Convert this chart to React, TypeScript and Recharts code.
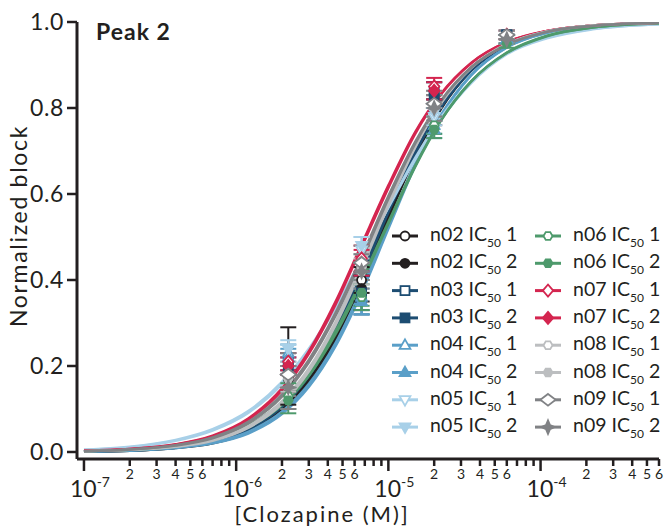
import React from "react";
import {
  ComposedChart,
  Line,
  Scatter,
  ErrorBar,
  XAxis,
  YAxis,
  Legend,
  Label,
} from "recharts";

const FONT = "Lato, 'Noto Sans', sans-serif";
const INK = "#231f20";

const fitConc = [
  1e-7, 2e-7, 4e-7, 7e-7, 1.2e-6, 2e-6, 3e-6, 4.5e-6, 6.5e-6, 1e-5, 1.5e-5,
  2.2e-5, 3.5e-5, 6e-5, 1.1e-4, 2.2e-4, 6e-4,
];
// tested concentrations (M)
const doseConc = [2.2e-6, 6.67e-6, 2e-5, 6e-5];

const yTicks = [0, 0.2, 0.4, 0.6, 0.8, 1.0];
const xTicks = [
  1e-7, 2e-7, 3e-7, 4e-7, 5e-7, 6e-7, 7e-7, 8e-7, 9e-7,
  1e-6, 2e-6, 3e-6, 4e-6, 5e-6, 6e-6, 7e-6, 8e-6, 9e-6,
  1e-5, 2e-5, 3e-5, 4e-5, 5e-5, 6e-5, 7e-5, 8e-5, 9e-5,
  1e-4, 2e-4, 3e-4, 4e-4, 5e-4, 6e-4,
];

// fitted curves, normalized block
const fitN02a = [0.001, 0.003, 0.010, 0.022, 0.049, 0.099, 0.168, 0.271, 0.392, 0.552, 0.693, 0.801, 0.890, 0.948, 0.978, 0.992, 0.998];
const fitN02b = [0.001, 0.003, 0.009, 0.020, 0.045, 0.093, 0.160, 0.262, 0.382, 0.543, 0.686, 0.796, 0.887, 0.946, 0.977, 0.991, 0.998];
const fitN03a = [0.002, 0.004, 0.012, 0.026, 0.056, 0.111, 0.183, 0.288, 0.408, 0.563, 0.698, 0.801, 0.888, 0.945, 0.977, 0.991, 0.998];
const fitN03b = [0.002, 0.004, 0.011, 0.024, 0.052, 0.105, 0.176, 0.280, 0.400, 0.557, 0.694, 0.799, 0.887, 0.945, 0.977, 0.991, 0.998];
const fitN04a = [0.001, 0.003, 0.009, 0.020, 0.043, 0.088, 0.151, 0.246, 0.361, 0.519, 0.665, 0.779, 0.876, 0.941, 0.975, 0.991, 0.998];
const fitN04b = [0.002, 0.004, 0.010, 0.022, 0.047, 0.094, 0.158, 0.254, 0.370, 0.527, 0.671, 0.782, 0.877, 0.941, 0.975, 0.990, 0.998];
const fitN05a = [0.005, 0.012, 0.028, 0.053, 0.095, 0.163, 0.240, 0.338, 0.442, 0.568, 0.680, 0.772, 0.858, 0.925, 0.962, 0.983, 0.995];
const fitN05b = [0.005, 0.011, 0.026, 0.050, 0.091, 0.158, 0.236, 0.335, 0.441, 0.570, 0.684, 0.777, 0.862, 0.928, 0.964, 0.984, 0.995];
const fitN06a = [0.002, 0.006, 0.015, 0.031, 0.062, 0.116, 0.185, 0.282, 0.392, 0.535, 0.666, 0.770, 0.862, 0.928, 0.967, 0.987, 0.997];
const fitN06b = [0.002, 0.005, 0.013, 0.028, 0.057, 0.109, 0.177, 0.274, 0.385, 0.530, 0.663, 0.769, 0.862, 0.929, 0.968, 0.987, 0.997];
const fitN07a = [0.003, 0.007, 0.018, 0.038, 0.078, 0.148, 0.234, 0.350, 0.474, 0.620, 0.744, 0.832, 0.905, 0.953, 0.979, 0.992, 0.998];
const fitN07b = [0.003, 0.007, 0.017, 0.036, 0.075, 0.143, 0.228, 0.343, 0.467, 0.614, 0.740, 0.830, 0.904, 0.953, 0.979, 0.992, 0.998];
const fitN08a = [0.002, 0.005, 0.013, 0.028, 0.060, 0.118, 0.194, 0.303, 0.425, 0.580, 0.713, 0.812, 0.895, 0.949, 0.978, 0.992, 0.998];
const fitN08b = [0.002, 0.005, 0.012, 0.026, 0.056, 0.112, 0.187, 0.295, 0.417, 0.573, 0.708, 0.809, 0.893, 0.948, 0.978, 0.992, 0.998];
const fitN09a = [0.002, 0.006, 0.016, 0.034, 0.070, 0.134, 0.214, 0.324, 0.445, 0.595, 0.721, 0.816, 0.895, 0.947, 0.977, 0.991, 0.998];
const fitN09b = [0.002, 0.006, 0.015, 0.032, 0.067, 0.129, 0.208, 0.317, 0.438, 0.589, 0.717, 0.814, 0.894, 0.947, 0.977, 0.991, 0.998];

// measured means and error at doseConc
const meanN02a = [0.20, 0.40, 0.80, 0.96];
const errN02a = [0.09, 0.03, 0.03, 0.01];
const meanN02b = [0.17, 0.38, 0.79, 0.96];
const errN02b = [0.03, 0.03, 0.03, 0.01];
const meanN03a = [0.21, 0.37, 0.84, 0.97];
const errN03a = [0.02, 0.04, 0.02, 0.01];
const meanN03b = [0.20, 0.36, 0.83, 0.97];
const errN03b = [0.02, 0.04, 0.03, 0.01];
const meanN04a = [0.23, 0.36, 0.76, 0.96];
const errN04a = [0.02, 0.04, 0.02, 0.01];
const meanN04b = [0.22, 0.35, 0.75, 0.96];
const errN04b = [0.02, 0.03, 0.02, 0.01];
const meanN05a = [0.24, 0.47, 0.78, 0.96];
const errN05a = [0.02, 0.03, 0.02, 0.01];
const meanN05b = [0.24, 0.48, 0.79, 0.96];
const errN05b = [0.01, 0.02, 0.02, 0.01];
const meanN06a = [0.13, 0.36, 0.76, 0.96];
const errN06a = [0.03, 0.03, 0.02, 0.01];
const meanN06b = [0.12, 0.37, 0.75, 0.95];
const errN06b = [0.03, 0.03, 0.02, 0.01];
const meanN07a = [0.21, 0.45, 0.85, 0.97];
const errN07a = [0.02, 0.03, 0.02, 0.01];
const meanN07b = [0.20, 0.44, 0.84, 0.97];
const errN07b = [0.02, 0.03, 0.02, 0.01];
const meanN08a = [0.18, 0.43, 0.81, 0.97];
const errN08a = [0.03, 0.03, 0.03, 0.01];
const meanN08b = [0.17, 0.42, 0.80, 0.97];
const errN08b = [0.03, 0.03, 0.03, 0.01];
const meanN09a = [0.18, 0.44, 0.81, 0.97];
const errN09a = [0.05, 0.04, 0.03, 0.01];
const meanN09b = [0.15, 0.42, 0.80, 0.96];
const errN09b = [0.05, 0.04, 0.03, 0.01];

type Shape = "circle" | "square" | "triUp" | "triDown" | "hex" | "diamond" | "wideDiamond" | "star4";

interface Series {
  key: string;
  cell: string;
  run: string;
  color: string;
  shape: Shape;
  filled: boolean;
  fit: number[];
  mean: number[];
  err: number[];
}

const series: Series[] = [
  { key: "n02a", cell: "n02", run: "1", color: "#231f20", shape: "circle", filled: false, fit: fitN02a, mean: meanN02a, err: errN02a },
  { key: "n02b", cell: "n02", run: "2", color: "#231f20", shape: "circle", filled: true, fit: fitN02b, mean: meanN02b, err: errN02b },
  { key: "n03a", cell: "n03", run: "1", color: "#1d4d72", shape: "square", filled: false, fit: fitN03a, mean: meanN03a, err: errN03a },
  { key: "n03b", cell: "n03", run: "2", color: "#1d4d72", shape: "square", filled: true, fit: fitN03b, mean: meanN03b, err: errN03b },
  { key: "n04a", cell: "n04", run: "1", color: "#5a9fc8", shape: "triUp", filled: false, fit: fitN04a, mean: meanN04a, err: errN04a },
  { key: "n04b", cell: "n04", run: "2", color: "#5a9fc8", shape: "triUp", filled: true, fit: fitN04b, mean: meanN04b, err: errN04b },
  { key: "n05a", cell: "n05", run: "1", color: "#a8d0e8", shape: "triDown", filled: false, fit: fitN05a, mean: meanN05a, err: errN05a },
  { key: "n05b", cell: "n05", run: "2", color: "#a8d0e8", shape: "triDown", filled: true, fit: fitN05b, mean: meanN05b, err: errN05b },
  { key: "n06a", cell: "n06", run: "1", color: "#4e9a6c", shape: "hex", filled: false, fit: fitN06a, mean: meanN06a, err: errN06a },
  { key: "n06b", cell: "n06", run: "2", color: "#4e9a6c", shape: "hex", filled: true, fit: fitN06b, mean: meanN06b, err: errN06b },
  { key: "n07a", cell: "n07", run: "1", color: "#d4254f", shape: "diamond", filled: false, fit: fitN07a, mean: meanN07a, err: errN07a },
  { key: "n07b", cell: "n07", run: "2", color: "#d4254f", shape: "diamond", filled: true, fit: fitN07b, mean: meanN07b, err: errN07b },
  { key: "n08a", cell: "n08", run: "1", color: "#bcbec0", shape: "hex", filled: false, fit: fitN08a, mean: meanN08a, err: errN08a },
  { key: "n08b", cell: "n08", run: "2", color: "#bcbec0", shape: "hex", filled: true, fit: fitN08b, mean: meanN08b, err: errN08b },
  { key: "n09a", cell: "n09", run: "1", color: "#808285", shape: "wideDiamond", filled: false, fit: fitN09a, mean: meanN09a, err: errN09a },
  { key: "n09b", cell: "n09", run: "2", color: "#808285", shape: "star4", filled: true, fit: fitN09b, mean: meanN09b, err: errN09b },
];

const fitRows = fitConc.map((x, i) => {
  const row: Record<string, number> = { x };
  series.forEach((s) => (row[s.key] = s.fit[i]));
  return row;
});

const Marker = ({ shape, filled, color, cx, cy, r = 5 }: any) => {
  const fill = filled ? color : "#fff";
  const common = { fill, stroke: color, strokeWidth: 1.8 };
  switch (shape) {
    case "circle":
      return <circle cx={cx} cy={cy} r={r} {...common} />;
    case "square":
      return <rect x={cx - r} y={cy - r} width={2 * r} height={2 * r} {...common} />;
    case "triUp":
      return <polygon points={`${cx},${cy - r * 1.3} ${cx + r * 1.2},${cy + r * 0.8} ${cx - r * 1.2},${cy + r * 0.8}`} {...common} />;
    case "triDown":
      return <polygon points={`${cx},${cy + r * 1.3} ${cx + r * 1.2},${cy - r * 0.8} ${cx - r * 1.2},${cy - r * 0.8}`} {...common} />;
    case "hex": {
      const pts = [0, 1, 2, 3, 4, 5]
        .map((k) => {
          const a = (Math.PI / 3) * k;
          return `${cx + r * Math.cos(a)},${cy + r * Math.sin(a)}`;
        })
        .join(" ");
      return <polygon points={pts} {...common} />;
    }
    case "diamond":
      return <polygon points={`${cx},${cy - r * 1.35} ${cx + r * 1.15},${cy} ${cx},${cy + r * 1.35} ${cx - r * 1.15},${cy}`} {...common} />;
    case "wideDiamond":
      return <polygon points={`${cx},${cy - r * 1.3} ${cx + r * 1.7},${cy} ${cx},${cy + r * 1.3} ${cx - r * 1.7},${cy}`} {...common} />;
    case "star4": {
      const o = r * 1.5;
      const n = r * 0.45;
      return (
        <polygon
          points={`${cx},${cy - o} ${cx + n},${cy - n} ${cx + o},${cy} ${cx + n},${cy + n} ${cx},${cy + o} ${cx - n},${cy + n} ${cx - o},${cy} ${cx - n},${cy - n}`}
          {...common}
        />
      );
    }
    default:
      return null;
  }
};

const YTick = (props: any) => {
  const { x, y, payload } = props;
  return (
    <g>
      <line x1={x - 10} x2={x} y1={y} y2={y} stroke={INK} strokeWidth={2.5} />
      <text x={x - 13} y={y} dy={8} textAnchor="end" fontSize={23} letterSpacing={0.6} fill={INK} fontFamily={FONT}>
        {Number(payload.value).toFixed(1)}
      </text>
    </g>
  );
};

const XTick = (props: any) => {
  const { x, y, payload } = props;
  const v = payload.value as number;
  const exp = Math.floor(Math.log10(v) + 1e-9);
  const m = Math.round(v / Math.pow(10, exp));
  if (m === 1) {
    return (
      <g>
        <line x1={x} x2={x} y1={y} y2={y + 12} stroke={INK} strokeWidth={2.5} />
        <text x={x - 14} y={y + 38} fontSize={23} fill={INK} fontFamily={FONT}>
          10
          <tspan fontSize={14} dy={-10}>{exp}</tspan>
        </text>
      </g>
    );
  }
  return (
    <g>
      <line x1={x} x2={x} y1={y} y2={y + 7} stroke={INK} strokeWidth={2.5} />
      {m <= 6 && (
        <text x={x} y={y + 20} textAnchor="middle" fontSize={14} fill={INK} fontFamily={FONT}>
          {m}
        </text>
      )}
    </g>
  );
};

const LegendBox = () => {
  const rowH = 27.3;
  return (
    <svg width={280} height={225} style={{ overflow: "visible" }}>
      {series.map((s, i) => {
        const col = i < 8 ? 0 : 1;
        const row = i % 8;
        const cx = col === 0 ? 20 : 163;
        const cy = 14 + row * rowH;
        return (
          <g key={s.key}>
            <line x1={cx - 13} x2={cx + 13} y1={cy} y2={cy} stroke={s.color} strokeWidth={3} />
            <Marker shape={s.shape} filled={s.filled} color={s.color} cx={cx} cy={cy} r={4.5} />
            <text x={cx + 25} y={cy + 5} fontSize={19.5} fill={INK} fontFamily={FONT}>
              {`${s.cell} IC`}
              <tspan fontSize={12} dy={6}>50</tspan>
              <tspan dy={-6}>{` ${s.run}`}</tspan>
            </text>
          </g>
        );
      })}
    </svg>
  );
};

const App = () => {
  return (
    <div style={{ position: "absolute", left: 0, top: 0, background: "#fff" }}>
      <ComposedChart
        width={664}
        height={527}
        data={fitRows}
        margin={{ top: 22, right: 5, bottom: 0, left: 7 }}
      >
        <XAxis
          dataKey="x"
          type="number"
          scale="log"
          domain={[9e-8, 6e-4]}
          allowDataOverflow
          ticks={xTicks}
          interval={0}
          tick={<XTick />}
          tickLine={false}
          tickSize={0}
          tickMargin={0}
          height={68}
          axisLine={{ stroke: INK, strokeWidth: 3 }}
        >
          <Label
            content={() => (
              <text x={322} y={522} textAnchor="middle" fontSize={22} letterSpacing={2} fill={INK} fontFamily={FONT}>
                [Clozapine (M)]
              </text>
            )}
          />
        </XAxis>
        <YAxis
          type="number"
          domain={[-0.0163, 1]}
          allowDataOverflow
          ticks={yTicks}
          interval={0}
          tick={<YTick />}
          tickLine={false}
          tickSize={0}
          tickMargin={0}
          width={70}
          axisLine={{ stroke: INK, strokeWidth: 3 }}
        >
          <Label
            content={() => (
              <text
                x={19}
                y={226}
                textAnchor="middle"
                fontSize={23}
                letterSpacing={1.7}
                fill={INK}
                fontFamily={FONT}
                transform="rotate(-90 19 226)"
                dy={8}
              >
                Normalized block
              </text>
            )}
          />
          <Label
            content={() => (
              <text x={96} y={40} fontSize={23} fontWeight="bold" letterSpacing={1} fill={INK} fontFamily={FONT}>
                Peak 2
              </text>
            )}
          />
        </YAxis>
        {series.map((s) => (
          <Line
            key={`fit-${s.key}`}
            dataKey={s.key}
            type="monotone"
            stroke={s.color}
            strokeWidth={2.5}
            dot={false}
            activeDot={false}
            isAnimationActive={false}
          />
        ))}
        {series.map((s) => (
          <Scatter
            key={`pts-${s.key}`}
            data={doseConc.map((x, i) => ({ x, y: s.mean[i], err: s.err[i] }))}
            dataKey="y"
            isAnimationActive={false}
            shape={(p: any) => (
              <Marker shape={s.shape} filled={s.filled} color={s.color} cx={p.cx} cy={p.cy} r={4.5} />
            )}
          >
            <ErrorBar dataKey="err" direction="y" width={8} stroke={s.color} strokeWidth={2} />
          </Scatter>
        ))}
        <Legend
          layout="horizontal"
          verticalAlign="middle"
          align="center"
          wrapperStyle={{ left: 385, top: 222, width: 280, height: 225 }}
          content={() => <LegendBox />}
        />
      </ComposedChart>
    </div>
  );
};

export default App;
